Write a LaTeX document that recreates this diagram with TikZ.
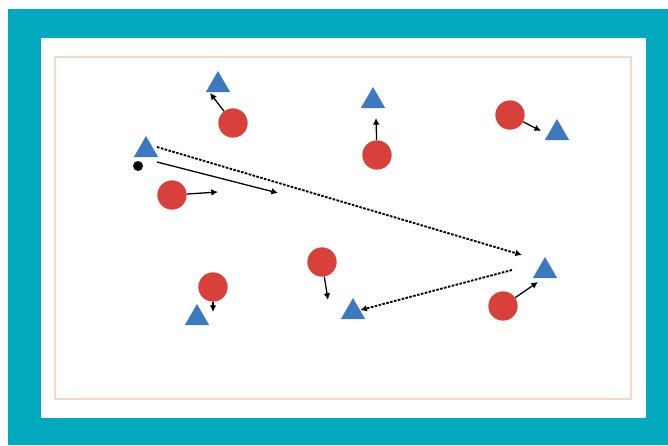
\documentclass[tikz,border=0pt]{standalone}
\usetikzlibrary{arrows.meta,shapes.geometric}
\definecolor{frame}{HTML}{00A9BC}
\definecolor{pitch}{HTML}{F3D9C8}
\definecolor{red}{HTML}{D8413B}
\definecolor{blue}{HTML}{3C79C0}

\begin{document}
\begin{tikzpicture}[x=0.03cm,y=-0.03cm,
  player/.style={circle,fill=red,minimum size=0.88cm,inner sep=0pt},
  rival/.style={regular polygon,regular polygon sides=3,fill=blue,minimum size=0.84cm,inner sep=0pt},
  ball/.style={circle,fill=black,minimum size=0.3cm,inner sep=0pt},
  run/.style={-{Latex[length=2mm,width=2mm]},line width=1.1pt},
  pass/.style={-{Latex[length=2mm,width=2mm]},line width=1.6pt,dash pattern=on 2.2pt off 1.2pt}]
  % frame and pitch
  \useasboundingbox (0,0) rectangle (668,445);
  \fill[frame] (8,9) rectangle (668,445);
  \fill[white] (41,38) rectangle (646,418);
  \draw[pitch,line width=1pt] (55,57) rectangle (631,399);

  \node[rival] (t1) at (218,85) {};
  \node[player] (p1) at (233,123) {};
  \node[rival] (t2) at (373,101) {};
  \node[player] (p2) at (377,155) {};
  \node[player] (p3) at (510,115) {};
  \node[rival] (t3) at (557,133) {};
  \node[rival] (t4) at (146,150) {};
  \node[ball] (b) at (138,166) {};
  \node[player] (p4) at (172,195) {};
  \node[player] (p5) at (213,287) {};
  \node[rival] (t5) at (197,318) {};
  \node[player] (p6) at (322,262) {};
  \node[rival] (t6) at (353,312) {};
  \node[rival] (t7) at (545,271) {};
  \node[player] (p7) at (503,306) {};

  \coordinate (m1) at (210,93);
  \coordinate (m2) at (376,118);
  \coordinate (m3) at (541,131);
  \coordinate (m4) at (218,192);
  \coordinate (m5) at (213,312);
  \coordinate (m6) at (328,300);
  \coordinate (m7) at (538,282);
  \coordinate (d1) at (157,162);
  \coordinate (d2) at (278,193);
  \coordinate (s1) at (157,147);
  \coordinate (s2) at (522,255);
  \coordinate (s3) at (512,270);

  \draw[run] (p1)--(m1); \draw[run] (p2)--(m2);
  \draw[run] (p3)--(m3); \draw[run] (p4)--(m4);
  \draw[run] (p5)--(m5); \draw[run] (p6)--(m6);
  \draw[run] (p7)--(m7); \draw[run] (d1)--(d2);
  \draw[pass] (s1)--(s2);
  \draw[pass] (s3)--(t6);
\end{tikzpicture}
\end{document}
